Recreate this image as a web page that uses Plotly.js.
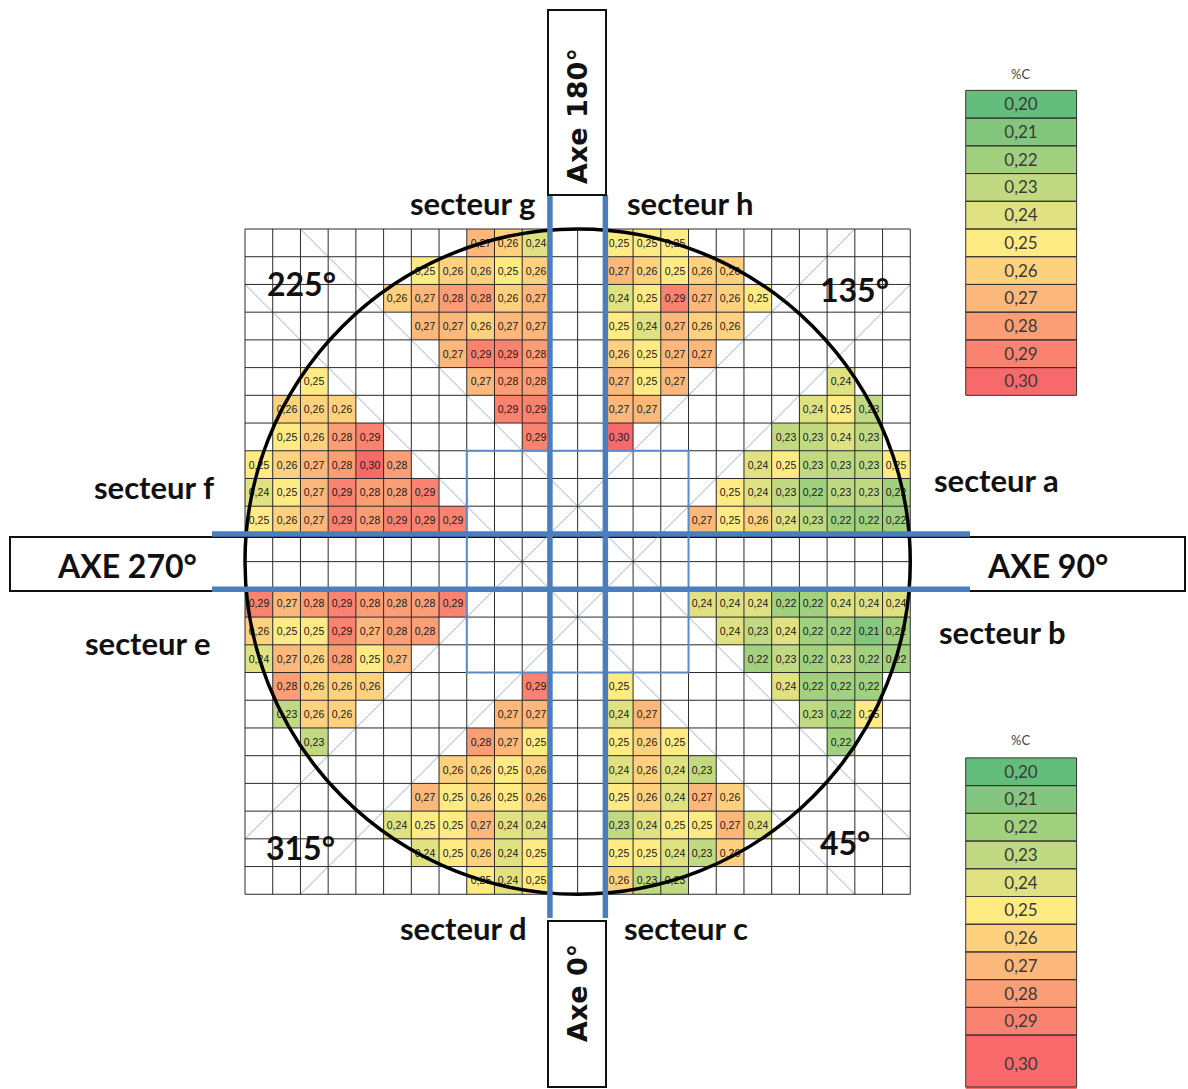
<!DOCTYPE html>
<html>
<head>
<meta charset="utf-8">
<script src="https://cdn.plot.ly/plotly-3.0.1.min.js"></script>
<style>html,body{margin:0;padding:0;background:#fff;}#chart{width:1188px;height:1089px;}</style>
</head>
<body>
<div id="chart"></div>
<script>
const _ = null;
// %C values, rows top (near Axe 180°) to bottom (near Axe 0°), columns left (AXE 270°) to right (AXE 90°)
const row00 = [_,_,_,_,_,_,_,_,.27,.26,.24,_,_,.25,.25,.25,_,_,_,_,_,_,_,_];
const row01 = [_,_,_,_,_,_,.25,.26,.26,.25,.26,_,_,.27,.26,.25,.26,.26,_,_,_,_,_,_];
const row02 = [_,_,_,_,_,.26,.27,.28,.28,.26,.27,_,_,.24,.25,.29,.27,.26,.25,_,_,_,_,_];
const row03 = [_,_,_,_,_,_,.27,.27,.26,.27,.27,_,_,.25,.24,.27,.26,.26,_,_,_,_,_,_];
const row04 = [_,_,_,_,_,_,_,.27,.29,.29,.28,_,_,.26,.25,.27,.27,_,_,_,_,_,_,_];
const row05 = [_,_,.25,_,_,_,_,_,.27,.28,.28,_,_,.27,.25,.27,_,_,_,_,_,.24,_,_];
const row06 = [_,.26,.26,.26,_,_,_,_,_,.29,.29,_,_,.27,.27,_,_,_,_,_,.24,.25,.23,_];
const row07 = [_,.25,.26,.28,.29,_,_,_,_,_,.29,_,_,.30,_,_,_,_,_,.23,.23,.24,.23,_];
const row08 = [.25,.26,.27,.28,.30,.28,_,_,_,_,_,_,_,_,_,_,_,_,.24,.25,.23,.23,.23,.25];
const row09 = [.24,.25,.27,.29,.28,.28,.29,_,_,_,_,_,_,_,_,_,_,.25,.24,.23,.22,.23,.23,.22];
const row10 = [.25,.26,.27,.29,.28,.29,.29,.29,_,_,_,_,_,_,_,_,.27,.25,.26,.24,.23,.22,.22,.22];
const row11 = [_,_,_,_,_,_,_,_,_,_,_,_,_,_,_,_,_,_,_,_,_,_,_,_];
const row12 = [_,_,_,_,_,_,_,_,_,_,_,_,_,_,_,_,_,_,_,_,_,_,_,_];
const row13 = [.29,.27,.28,.29,.28,.28,.28,.29,_,_,_,_,_,_,_,_,.24,.24,.24,.22,.22,.24,.24,.24];
const row14 = [.26,.25,.25,.29,.27,.28,.28,_,_,_,_,_,_,_,_,_,_,.24,.23,.24,.22,.22,.21,.22];
const row15 = [.24,.27,.26,.28,.25,.27,_,_,_,_,_,_,_,_,_,_,_,_,.22,.23,.22,.23,.22,.22];
const row16 = [_,.28,.26,.26,.26,_,_,_,_,_,.29,_,_,.25,_,_,_,_,_,.24,.22,.22,.22,_];
const row17 = [_,.23,.26,.26,_,_,_,_,_,.27,.27,_,_,.24,.27,_,_,_,_,_,.23,.22,.25,_];
const row18 = [_,_,.23,_,_,_,_,_,.28,.27,.25,_,_,.25,.26,.25,_,_,_,_,_,.22,_,_];
const row19 = [_,_,_,_,_,_,_,.26,.26,.25,.26,_,_,.24,.26,.24,.23,_,_,_,_,_,_,_];
const row20 = [_,_,_,_,_,_,.27,.25,.26,.25,.26,_,_,.25,.26,.24,.27,.26,_,_,_,_,_,_];
const row21 = [_,_,_,_,_,.24,.25,.25,.27,.24,.24,_,_,.23,.24,.25,.25,.27,.24,_,_,_,_,_];
const row22 = [_,_,_,_,_,_,.24,.25,.26,.24,.25,_,_,.25,.25,.24,.23,.26,_,_,_,_,_,_];
const row23 = [_,_,_,_,_,_,_,_,.25,.24,.25,_,_,.26,.23,.23,_,_,_,_,_,_,_,_];

const legendValues = [0.20,0.21,0.22,0.23,0.24,0.25,0.26,0.27,0.28,0.29,0.30];
const legendTitle = '%C';
const sectorLabels = ['secteur g','secteur h','secteur f','secteur a','secteur e','secteur b','secteur d','secteur c'];
const angleLabels = ['225°','135°','315°','45°'];
const axisLabels = ['AXE 270°','AXE 90°','Axe 180°','Axe 0°'];

const grid = [row00,row01,row02,row03,row04,row05,row06,row07,row08,row09,row10,row11,
              row12,row13,row14,row15,row16,row17,row18,row19,row20,row21,row22,row23];

// ---- geometry (pixel -> grid units) ----
const CELL = 27.72, GX = 245, GY = 229, W = 1188, H = 1089, N = 24;
const X = px => (px - GX) / CELL;
const Y = py => (py - GY) / CELL;
const fmt = v => v == null ? '' : v.toFixed(2).replace('.', ',');

const colorscale = [[0,'#63BE7B'],[0.5,'#FFEB84'],[1,'#F8696B']];
const idx = Array.from({length:N}, (_,i)=>i+0.5);

const traces = [];
traces.push({
  type:'heatmap', z: grid, x: idx, y: idx,
  text: grid.map(r=>r.map(fmt)), texttemplate:'%{text}',
  textfont:{family:'Liberation Sans, Arial, sans-serif', size:10.5, color:'#1a1a1a'},
  colorscale, zmin:0.2, zmax:0.3, showscale:false, hoverinfo:'skip', xgap:0, ygap:0
});

// legends
const legTopEdges = Array.from({length:legendValues.length+1}, (_,i)=>-5+i);
const legBotEdges = Array.from({length:legendValues.length}, (_,i)=>19.08+i).concat([31.2]);
[legTopEdges, legBotEdges].forEach(edges=>{
  traces.push({
    type:'heatmap', z: legendValues.map(v=>[v]), x:[26,30], y: edges,
    text: legendValues.map(v=>[fmt(v)]), texttemplate:'%{text}',
    textfont:{family:'Lato, Open Sans, sans-serif', size:17, color:'#3a3a3a'},
    colorscale, zmin:0.2, zmax:0.3, showscale:false, hoverinfo:'skip'
  });
});

const shapes = [];
const line = (x0,y0,x1,y1,color,width,layer) => shapes.push({type:'line',xref:'x',yref:'y',x0,y0,x1,y1,line:{color,width},layer:layer||'above'});
const rect = (x0,y0,x1,y1,color,width,layer) => shapes.push({type:'rect',xref:'x',yref:'y',x0,y0,x1,y1,line:{color,width},fillcolor:'rgba(0,0,0,0)',layer:layer||'above'});

// AXE 270/90 band box
rect(X(10), Y(537), X(1185), Y(591), '#111', 2, 'below');
// thin diagonal guide lines
const dc = 'rgba(120,155,200,0.8)';
line(0,2,22,24,dc,1,'below');
line(2,0,24,22,dc,1,'below');
line(0,22,22,0,dc,1,'below');
line(2,24,24,2,dc,1,'below');
// grid lines
for (let i=0;i<=N;i++){
  line(i,0,i,N,'#2a2a2a',1);
  line(0,i,N,i,'#2a2a2a',1);
}
// circle
shapes.push({type:'circle',xref:'x',yref:'y',x0:0,y0:0,x1:N,y1:N,line:{color:'#000',width:3.5},layer:'above'});
// central box
rect(8,8,16,16,'#5B8BC9',2);
// thick blue axis lines
const bc = '#4A7EBF';
line(X(212),11,X(970),11,bc,5.5);
line(X(212),13,X(970),13,bc,5.5);
line(11,Y(195),11,Y(918),bc,5.5);
line(13,Y(195),13,Y(918),bc,5.5);
// Axe 180 / Axe 0 boxes
rect(X(548),Y(10),X(606),Y(195),'#111',2);
rect(X(548),Y(921),X(606),Y(1087),'#111',2);
// legend cell borders
[legTopEdges, legBotEdges].forEach(edges=>{
  for (let i=0;i<edges.length-1;i++) rect(26,edges[i],30,Math.min(edges[i+1],Y(1087)),'#333',1);
});

const ann = [];
const A = (text,px,py,size,opts) => ann.push(Object.assign({text,xref:'x',yref:'y',x:X(px),y:Y(py),showarrow:false,
  xanchor:'center',yanchor:'middle',font:{family:'Lato, Open Sans, sans-serif',size,color:'#111'}},opts||{}));
const sPos = [[472,203],[690,203],[154,487],[996,480],[148,643],[1002,632],[463,928],[686,928]];
sectorLabels.forEach((t,i)=>A('<b>'+t+'</b>',sPos[i][0],sPos[i][1],31));
const aPos = [[301,283],[854,289],[300,847],[845,842]];
angleLabels.forEach((t,i)=>A('<b>'+t+'</b>',aPos[i][0],aPos[i][1],32));
A('<b>'+axisLabels[0]+'</b>',127,565,32);
A('<b>'+axisLabels[1]+'</b>',1047,565,32);
A('<b>'+axisLabels[2]+'</b>',577,116,27,{textangle:-90,font:{family:'DejaVu Sans, Verdana, sans-serif',size:27,color:'#111'}});
A('<b>'+axisLabels[3]+'</b>',577,993,27,{textangle:-90,font:{family:'DejaVu Sans, Verdana, sans-serif',size:27,color:'#111'}});
A(legendTitle,1020,74,13,{font:{family:'Lato, sans-serif',size:13,color:'#444'}});
A(legendTitle,1020,740,13,{font:{family:'Lato, sans-serif',size:13,color:'#444'}});

const layout = {
  width:W, height:H, margin:{l:0,r:0,t:0,b:0,pad:0},
  paper_bgcolor:'#fff', plot_bgcolor:'#fff', separators:', ',
  xaxis:{range:[X(0),X(W)],visible:false,fixedrange:true},
  yaxis:{range:[Y(H),Y(0)],visible:false,fixedrange:true},
  shapes, annotations:ann, showlegend:false
};
Plotly.newPlot('chart', traces, layout, {displayModeBar:false, staticPlot:true});
</script>
</body>
</html>
